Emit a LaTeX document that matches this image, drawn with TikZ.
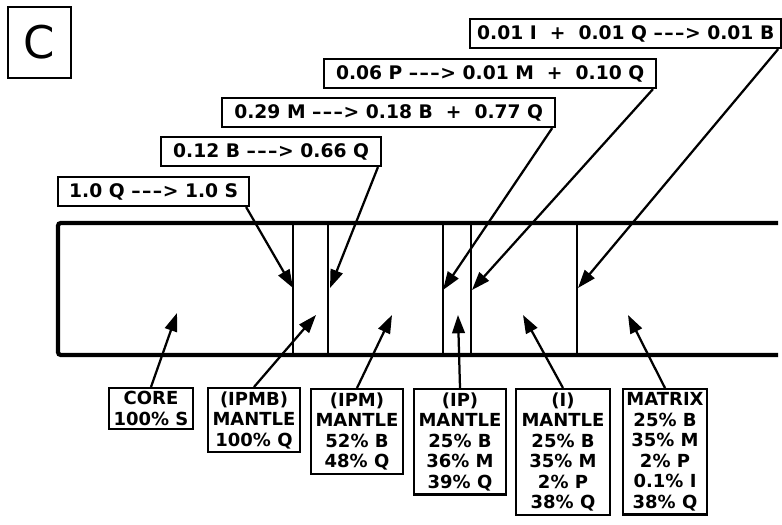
\documentclass[tikz,border=0pt]{standalone}
\usepackage{fontspec}
\setmainfont{DejaVu Sans}
\usetikzlibrary{arrows.meta, positioning, calc}
\newcommand{\goesto}{\textendash\kern1pt\textendash\kern1pt\textendash\kern0.5pt>}

\begin{document}
\begin{tikzpicture}[
    x=0.025cm, y=-0.025cm,
    every node/.style={font=\bfseries\fontsize{12.8}{14.6}\selectfont},
    rxn/.style={draw, line width=1.5pt, minimum height=0.725cm, inner sep=2pt,
        anchor=north west, font=\bfseries\fontsize{13.3}{15}\selectfont},
    comp/.style={draw, line width=1.5pt, align=center, inner sep=2.5pt, anchor=north},
    band/.style={line width=3pt},
    wall/.style={line width=1.5pt},
    ptr/.style={line width=1.6pt, -{Triangle[length=13pt, width=9pt]}},
]
\useasboundingbox (0,0) rectangle (782,525);

% ============================================================ panel letter
\node[draw, line width=1.2pt, minimum width=1.58cm, minimum height=1.78cm,
      font=\fontsize{32}{32}\selectfont, anchor=north west] (panel) at (7,6) {C};

% ============================================================ reactions
\node[rxn, minimum width=4.78cm] (r1) at (57,176) {1.0 Q \goesto{} 1.0 S};
\node[rxn, minimum width=5.5cm]  (r2) at (160,136) {0.12 B \goesto{} 0.66 Q};
\node[rxn, minimum width=8.33cm] (r3) at (221,97) {0.29 M \goesto{} 0.18 B ~+~ 0.77 Q};
\node[rxn, minimum width=8.3cm]  (r4) at (323,58) {0.06 P \goesto{} 0.01 M ~+~ 0.10 Q};
\node[rxn, minimum width=7.78cm] (r5) at (469,18) {0.01 I ~+~ 0.01 Q \goesto{} 0.01 B};

% ============================================================ the band
\draw[band, rounded corners=2pt] (778,223) -- (58,223) -- (58,355) -- (778,355);
\foreach \x in {293, 328, 443, 471, 577}{
    \draw[wall] (\x,223) -- (\x,355);
}

% where the reactions act
\coordinate (t1) at (293,288);
\coordinate (t2) at (330,288);
\coordinate (t3) at (443,290);
\coordinate (t4) at (472,290);
\coordinate (t5) at (578,288);

\foreach \r/\t in {r1/t1, r2/t2, r3/t3, r4/t4, r5/t5}{
    \draw[ptr] ([xshift=-3pt]\r.south east) -- (\t);
}

% ============================================================ compositions
\node[comp, minimum width=2.1cm]  (core)   at (151,387) {CORE\\100\% S};
\node[comp, minimum width=2.3cm]  (ipmb)   at (254,387) {(IPMB)\\MANTLE\\100\% Q};
\node[comp, minimum width=2.3cm]  (ipm)    at (357,388) {(IPM)\\MANTLE\\52\% B\\48\% Q};
\node[comp, minimum width=2.3cm]  (ip)     at (460,388) {(IP)\\MANTLE\\25\% B\\36\% M\\39\% Q};
\node[comp, minimum width=2.35cm] (imant)  at (563,388) {(I)\\MANTLE\\25\% B\\35\% M\\2\% P\\38\% Q};
\node[comp, minimum width=2.08cm] (matrix) at (665,388) {MATRIX\\25\% B\\35\% M\\2\% P\\0.1\% I\\38\% Q};

% zones they describe
\coordinate (z1) at (177,313);
\coordinate (z2) at (316,315);
\coordinate (z3) at (392,315);
\coordinate (z4) at (458,315);
\coordinate (z5) at (523,315);
\coordinate (z6) at (628,315);

\foreach \b/\z in {core/z1, ipmb/z2, ipm/z3, ip/z4, imant/z5, matrix/z6}{
    \draw[ptr] (\b.north) -- (\z);
}

\end{tikzpicture}
\end{document}
